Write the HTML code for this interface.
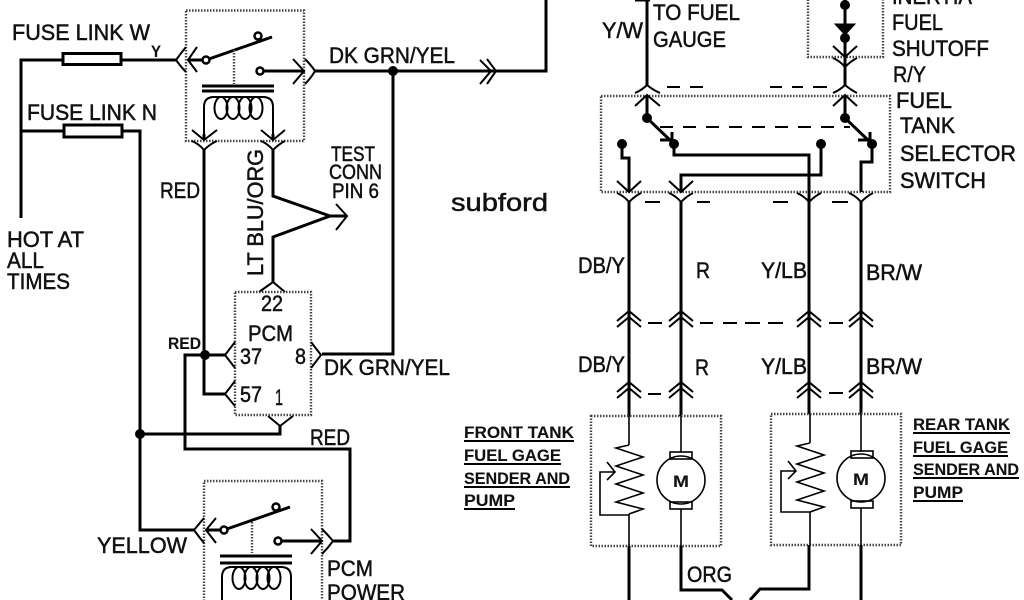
<!DOCTYPE html>
<html><head><meta charset="utf-8"><style>
html,body{margin:0;padding:0;background:#fff;width:1024px;height:600px;overflow:hidden}
svg{display:block}
text{font-family:"Liberation Sans",sans-serif;font-size:22px;fill:#111;stroke:#111;stroke-width:.5}
.b{font-weight:bold;font-size:17px;stroke-width:.1}
.c{font-size:21px}
.t{stroke-width:3;fill:none;stroke:#000}
.m{stroke-width:2;fill:none;stroke:#000}
.n{stroke-width:1.6;fill:none;stroke:#000}
.d{stroke-width:2.4;fill:none;stroke:#444;stroke-dasharray:1.5 1.5}
.s{stroke-width:2;fill:none;stroke:#000;stroke-dasharray:13 10}
.f{fill:#000;stroke:#000}
.o{fill:#fff;stroke:#000;stroke-width:2.5}
.u{stroke:#000;stroke-width:2;fill:none}
</style></head><body>
<svg width="1024" height="600" viewBox="0 0 1024 600" xmlns="http://www.w3.org/2000/svg">
<defs>
<g id="coil">
<path d="M0 42V13Q0 3 10 3H59Q69 3 69 13V42" class="m"/>
<ellipse cx="17" cy="14" rx="6.500" ry="11" class="m"/>
<ellipse cx="29" cy="14" rx="6.500" ry="11" class="m"/>
<ellipse cx="41" cy="14" rx="6.500" ry="11" class="m"/>
<ellipse cx="52" cy="14" rx="6.500" ry="11" class="m"/>
</g>
<path id="zig" d="M0 0L-13 3L14 12L-13 21L14 30L-13 39L14 48L-13 57L14 64L0 69" class="n"/>
</defs>

<!-- left relay -->
<rect x="186" y="10.500" width="118" height="130.500" class="d"/>
<path d="M21 218V60H63M121 60H176M21 131H64M122 131H140V530H194" class="t"/>
<rect x="63" y="53.500" width="58" height="11" fill="#fff" class="t"/>
<rect x="64" y="125" width="58" height="12" fill="#fff" class="t"/>
<path d="M186 47Q181 53 176 60Q181 67 186 72M197 47L188 60L197 72" class="m"/>
<path d="M188 60H205M264 71H305M315 71H546V0M393 71V354H322" class="t"/>
<path d="M206 60L272 37" class="t"/>
<circle cx="206" cy="60" r="3.500" class="o"/><circle cx="258" cy="36" r="3.500" class="o"/><circle cx="260" cy="71" r="3.500" class="o"/>
<path d="M234 50V84" class="d"/>
<path d="M293 59L304 71L293 84M305 59Q311 65 315 71Q311 78 305 84M480 60L491 71L480 84M487 59L496 71L487 84" class="m"/>
<path d="M202 86H274M202 91H274" class="t"/>
<use href="#coil" x="204" y="94"/>
<path d="M204 134V140M273 134V140" class="t"/>
<path d="M192 130L204 140L217 130M261 130L273 140L285 130M192 141Q199 144 204 150Q210 144 217 141M261 141Q268 144 273 150Q279 144 285 141" class="m"/>
<circle cx="393" cy="71" r="4.500" class="f"/>
<path d="M204 150V394H225M273 150V196L330 216L273 237V282M330 216H346" class="t"/>
<path d="M336 204L347 216L336 230" class="m"/>
<path d="M259 292Q266 287 273 282Q279 287 285 292" class="m"/>

<!-- PCM -->
<rect x="235" y="292" width="76" height="123" class="d"/>
<path d="M235 342L225 355L235 368M235 381L225 394L235 406M311 342L321 355L311 368M268 416L280 426L293 416" class="m"/>
<path d="M225 355H185V449H350V541H333M140 434H280V426" class="t"/>
<circle cx="205" cy="355" r="4.500" class="f"/><circle cx="140" cy="434" r="4.500" class="f"/>

<!-- lower relay -->
<rect x="204" y="481" width="118" height="125" class="d"/>
<path d="M204 518Q199 524 194 530Q199 537 204 543M216 518L206 530L216 543M311 529L322 541L311 554M322 529Q328 535 333 541Q328 548 322 554" class="m"/>
<path d="M206 530H222M282 541H322M224 530L290 507M220 556H292M220 563H292" class="t"/>
<circle cx="224" cy="530" r="3.500" class="o"/><circle cx="276" cy="507" r="3.500" class="o"/><circle cx="278" cy="541" r="3.500" class="o"/>
<path d="M252 522V553" class="d"/>
<use href="#coil" x="222" y="564"/>

<!-- right: upper -->
<rect x="601" y="96" width="289" height="96" class="d"/>
<rect x="808" y="-10" width="75" height="67" class="d"/>
<path d="M635 0H650M647 0V85M647 95V118M845 0V35M845 38V85M845 95V118" class="t"/>
<path d="M835 24H855L845 35Z" class="f"/>
<path d="M833 46L845 57L857 46M833 58Q840 61 845 67Q851 61 857 58M635 93Q642 90 647 85Q653 90 660 93M833 93Q840 90 845 85Q851 90 857 93M635 106L647 95L660 106M833 106L845 95L857 106" class="m"/>
<path d="M667 87H680M690 87H703M770 87H782M792 87H803M813 87H827" class="m"/>
<path d="M660 127H850" class="s"/>
<path d="M647 118L672 142M845 118L870 142M660 140H672V132M858 140H870V132" class="t"/>
<path d="M622 144V158H629V192M674 144V155H809V414M821 144V175H681V192M872 144V162H861V192" class="t"/>
<circle cx="647" cy="118" r="4.500" class="f"/><circle cx="845" cy="118" r="4.500" class="f"/>
<circle cx="845" cy="5" r="4.500" class="f"/><circle cx="845" cy="38" r="4.500" class="f"/>
<circle cx="622" cy="144" r="4.500" class="f"/><circle cx="674" cy="144" r="4.500" class="f"/><circle cx="821" cy="144" r="4.500" class="f"/><circle cx="872" cy="144" r="4.500" class="f"/>
<path d="M617 181L629 192L641 181M669 181L681 192L693 181M617 193Q624 196 629 202Q635 196 641 193M669 193Q676 196 681 202Q687 196 693 193M797 193Q804 196 809 202Q815 196 821 193M849 193Q856 196 861 202Q867 196 873 193" class="m"/>
<path d="M645 202H660M697 202H710M773 202H788M832 202H848M648 323H662M700 323H713M723 323H737M745 323H760M768 323H783M829 323H843M648 394H661M829 393H843" class="m"/>
<path d="M629 202V416M681 202V416M861 202V414" class="t"/>

<!-- double arrows -->
<path d="M617 321L629 311L641 321M617 327L629 317L641 327M669 321L681 311L693 321M669 327L681 317L693 327M797 321L809 311L821 321M797 327L809 317L821 327M849 321L861 311L873 321M849 327L861 317L873 327" class="m"/>
<path d="M617 392L629 382L641 392M617 398L629 388L641 398M669 392L681 382L693 392M669 398L681 388L693 398M797 392L809 382L821 392M797 398L809 388L821 398M849 392L861 382L873 392M849 398L861 388L873 398" class="m"/>

<!-- tanks -->
<rect x="591" y="416" width="130" height="130" class="d"/>
<rect x="771" y="414" width="130" height="131" class="d"/>
<path d="M629 416V445M681 416V452M681 509V546M629 514V546M810 414V443M861 414V452M861 508V545M810 512V545" class="n"/>
<use href="#zig" x="629" y="445"/>
<use href="#zig" x="810" y="443"/>
<path d="M629 515H600V472H614M607 462L615 472L607 480M810 512H781V471H795M788 461L796 471L788 479" class="n"/>
<circle cx="681" cy="480" r="24" fill="#fff" class="n"/><circle cx="861" cy="478" r="24" fill="#fff" class="n"/>
<rect x="670" y="452" width="22" height="7" fill="#fff" class="n"/><rect x="670" y="502" width="22" height="7" fill="#fff" class="n"/>
<rect x="851" y="451" width="22" height="7" fill="#fff" class="n"/><rect x="851" y="501" width="22" height="7" fill="#fff" class="n"/>
<path d="M629 546V600M861 545V600M681 546V590H722L732 600M809 545V589H760L750 600" class="t"/>

<!-- text -->
<text x="12" y="40" textLength="138" lengthAdjust="spacingAndGlyphs">FUSE LINK W</text>
<text class="b" x="151" y="57" textLength="10" lengthAdjust="spacingAndGlyphs">Y</text>
<text x="27" y="120" textLength="130" lengthAdjust="spacingAndGlyphs">FUSE LINK N</text>
<text x="329" y="63" textLength="126" lengthAdjust="spacingAndGlyphs">DK GRN/YEL</text>
<text x="160" y="198" textLength="40" lengthAdjust="spacingAndGlyphs">RED</text>
<text transform="translate(263 276) rotate(-90)" textLength="127" lengthAdjust="spacingAndGlyphs">LT BLU/ORG</text>
<text class="c" x="331" y="161" textLength="44" lengthAdjust="spacingAndGlyphs">TEST</text>
<text class="c" x="329" y="179" textLength="53" lengthAdjust="spacingAndGlyphs">CONN</text>
<text class="c" x="332" y="198" textLength="47" lengthAdjust="spacingAndGlyphs">PIN 6</text>
<text x="7" y="247" textLength="77" lengthAdjust="spacingAndGlyphs">HOT AT</text>
<text x="7" y="268" textLength="37" lengthAdjust="spacingAndGlyphs">ALL</text>
<text x="7" y="289" textLength="63" lengthAdjust="spacingAndGlyphs">TIMES</text>
<text x="451" y="211" style="font-size:25px" textLength="97" lengthAdjust="spacingAndGlyphs">subford</text>
<text x="261" y="311" textLength="22" lengthAdjust="spacingAndGlyphs">22</text>
<text x="248" y="341" textLength="45" lengthAdjust="spacingAndGlyphs">PCM</text>
<text x="240" y="364" textLength="22" lengthAdjust="spacingAndGlyphs">37</text>
<text x="295" y="364" textLength="11" lengthAdjust="spacingAndGlyphs">8</text>
<text x="240" y="402" textLength="22" lengthAdjust="spacingAndGlyphs">57</text>
<text x="275" y="405" textLength="8" lengthAdjust="spacingAndGlyphs">1</text>
<text class="b" x="168" y="349" textLength="33" lengthAdjust="spacingAndGlyphs">RED</text>
<text x="324" y="375" textLength="126" lengthAdjust="spacingAndGlyphs">DK GRN/YEL</text>
<text x="310" y="445" textLength="40" lengthAdjust="spacingAndGlyphs">RED</text>
<text x="97" y="553" textLength="90" lengthAdjust="spacingAndGlyphs">YELLOW</text>
<text x="327" y="576" textLength="46" lengthAdjust="spacingAndGlyphs">PCM</text>
<text x="327" y="600" textLength="78" lengthAdjust="spacingAndGlyphs">POWER</text>
<text x="653" y="20" textLength="87" lengthAdjust="spacingAndGlyphs">TO FUEL</text>
<text x="653" y="47" textLength="73" lengthAdjust="spacingAndGlyphs">GAUGE</text>
<text x="602" y="38" textLength="41" lengthAdjust="spacingAndGlyphs">Y/W</text>
<text x="892" y="4" textLength="80" lengthAdjust="spacingAndGlyphs">INERTIA</text>
<text x="892" y="30" textLength="51" lengthAdjust="spacingAndGlyphs">FUEL</text>
<text x="892" y="56" textLength="97" lengthAdjust="spacingAndGlyphs">SHUTOFF</text>
<text x="893" y="82" textLength="33" lengthAdjust="spacingAndGlyphs">R/Y</text>
<text x="896" y="108" textLength="56" lengthAdjust="spacingAndGlyphs">FUEL</text>
<text x="900" y="133" textLength="55" lengthAdjust="spacingAndGlyphs">TANK</text>
<text x="900" y="161" textLength="116" lengthAdjust="spacingAndGlyphs">SELECTOR</text>
<text x="900" y="188" textLength="86" lengthAdjust="spacingAndGlyphs">SWITCH</text>
<text x="578" y="273" textLength="47" lengthAdjust="spacingAndGlyphs">DB/Y</text>
<text x="696" y="278" textLength="14" lengthAdjust="spacingAndGlyphs">R</text>
<text x="761" y="278" textLength="46" lengthAdjust="spacingAndGlyphs">Y/LB</text>
<text x="866" y="280" textLength="56" lengthAdjust="spacingAndGlyphs">BR/W</text>
<text x="578" y="372" textLength="47" lengthAdjust="spacingAndGlyphs">DB/Y</text>
<text x="695" y="375" textLength="14" lengthAdjust="spacingAndGlyphs">R</text>
<text x="761" y="374" textLength="46" lengthAdjust="spacingAndGlyphs">Y/LB</text>
<text x="866" y="374" textLength="56" lengthAdjust="spacingAndGlyphs">BR/W</text>
<text x="687" y="582" textLength="45" lengthAdjust="spacingAndGlyphs">ORG</text>
<text class="b" x="673" y="487" textLength="16" lengthAdjust="spacingAndGlyphs">M</text>
<text class="b" x="853" y="485" textLength="16" lengthAdjust="spacingAndGlyphs">M</text>
<text class="b" x="464" y="438" textLength="110" lengthAdjust="spacingAndGlyphs">FRONT TANK</text>
<text class="b" x="464" y="461" textLength="97" lengthAdjust="spacingAndGlyphs">FUEL GAGE</text>
<text class="b" x="464" y="484" textLength="106" lengthAdjust="spacingAndGlyphs">SENDER AND</text>
<text class="b" x="464" y="506" textLength="51" lengthAdjust="spacingAndGlyphs">PUMP</text>
<text class="b" x="913" y="430" textLength="97" lengthAdjust="spacingAndGlyphs">REAR TANK</text>
<text class="b" x="913" y="453" textLength="95" lengthAdjust="spacingAndGlyphs">FUEL GAGE</text>
<text class="b" x="913" y="475" textLength="106" lengthAdjust="spacingAndGlyphs">SENDER AND</text>
<text class="b" x="913" y="498" textLength="50" lengthAdjust="spacingAndGlyphs">PUMP</text>
<path d="M464 441H574M464 464H561M464 487H570M464 509H515M913 433H1010M913 456H1008M913 478H1019M913 501H963" class="u"/>
</svg>
</body></html>
